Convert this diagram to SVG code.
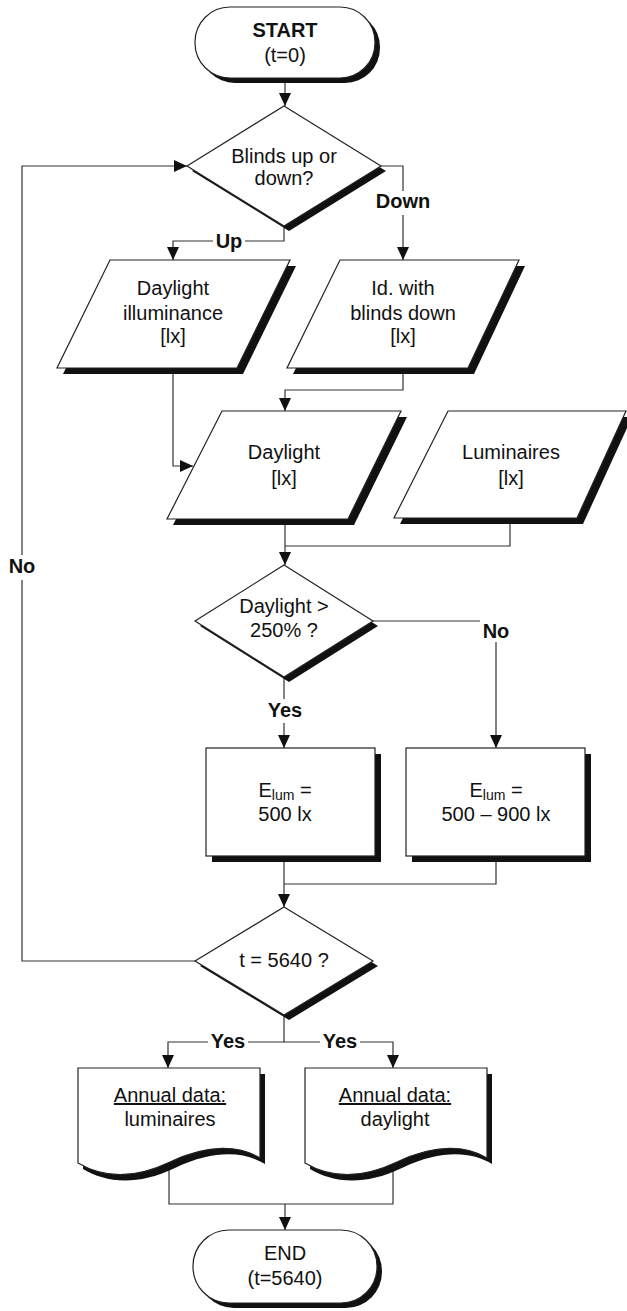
<svg xmlns="http://www.w3.org/2000/svg" width="627" height="1311" viewBox="0 0 627 1311">
<style>
.sh{fill:#111;stroke:none}
.nd{fill:#fff;stroke:#222;stroke-width:1.2}
.cn{fill:none;stroke:#333;stroke-width:1.2}
.t{font-family:"Liberation Sans",Arial,sans-serif;font-size:20px;fill:#111;text-anchor:middle}
.b{font-weight:bold}
.bg{fill:#fff;stroke:none}
</style>
<defs>
<marker id="ah" viewBox="0 0 13 12" refX="13" refY="6" markerWidth="13" markerHeight="12" markerUnits="userSpaceOnUse" orient="auto"><path d="M0,0 L13,6 L0,12 Z" fill="#111"/></marker>
<path id="doc" d="M0,0 H182 V90 C162,78 132,75 92,94 C52,113 22,108 0,95 Z"/>
</defs>
<rect width="627" height="1311" fill="#fff"/>
<g id="connectors">
<path class="cn" d="M285,78 V106" marker-end="url(#ah)"/>
<path class="cn" d="M381,166 H403 V260" marker-end="url(#ah)"/>
<path class="cn" d="M284,226 V241 H173 V260" marker-end="url(#ah)"/>
<path class="cn" d="M173,368 V466 H193" marker-end="url(#ah)"/>
<path class="cn" d="M403,368 V390 H285 V411" marker-end="url(#ah)"/>
<path class="cn" d="M285,519 V565" marker-end="url(#ah)"/>
<path class="cn" d="M510,518 V546 H285"/>
<path class="cn" d="M373,621 H496 V748" marker-end="url(#ah)"/>
<path class="cn" d="M284,677 V748" marker-end="url(#ah)"/>
<path class="cn" d="M284,856 V907" marker-end="url(#ah)"/>
<path class="cn" d="M496,856 V884 H284"/>
<path class="cn" d="M195,961 H22 V166 H187" marker-end="url(#ah)"/>
<path class="cn" d="M284,1015 V1042 H168 V1068" marker-end="url(#ah)"/>
<path class="cn" d="M284,1042 H393 V1068" marker-end="url(#ah)"/>
<path class="cn" d="M169,1168 V1204 H393 V1168"/>
<path class="cn" d="M285,1204 V1230" marker-end="url(#ah)"/>
</g>
<g id="start">
<rect class="sh" x="200" y="12" width="180" height="71" rx="35"/>
<rect class="nd" x="195" y="7" width="180" height="71" rx="35"/>
<text class="t b" x="285" y="37">START</text>
<text class="t" x="285" y="62">(t=0)</text>
</g>
<g id="blinds">
<polygon class="sh" points="289,111 386,171 289,231 192,171"/>
<polygon class="nd" points="284,106 381,166 284,226 187,166"/>
<text class="t" x="284" y="163">Blinds up or</text>
<text class="t" x="284" y="185">down?</text>
</g>
<g id="daylight-illuminance">
<polygon class="sh" points="116,266 296,266 243,374 63,374"/>
<polygon class="nd" points="110,260 290,260 237,368 57,368"/>
<text class="t" x="173" y="295">Daylight</text>
<text class="t" x="173" y="320">illuminance</text>
<text class="t" x="173" y="343">[lx]</text>
</g>
<g id="blinds-down">
<polygon class="sh" points="346,266 525,266 474,374 293,374"/>
<polygon class="nd" points="340,260 519,260 468,368 287,368"/>
<text class="t" x="403" y="295">Id. with</text>
<text class="t" x="403" y="320">blinds down</text>
<text class="t" x="403" y="343">[lx]</text>
</g>
<g id="daylight">
<polygon class="sh" points="228,417 407,417 354,525 173,525"/>
<polygon class="nd" points="222,411 401,411 348,519 167,519"/>
<text class="t" x="284" y="459">Daylight</text>
<text class="t" x="284" y="485">[lx]</text>
</g>
<g id="luminaires">
<polygon class="sh" points="454,417 632,417 583,524 400,524"/>
<polygon class="nd" points="448,411 626,411 577,518 394,518"/>
<text class="t" x="511" y="459">Luminaires</text>
<text class="t" x="511" y="485">[lx]</text>
</g>
<g id="check-daylight">
<polygon class="sh" points="289,570 378,626 289,682 200,626"/>
<polygon class="nd" points="284,565 373,621 284,677 195,621"/>
<text class="t" x="284" y="613">Daylight &gt;</text>
<text class="t" x="284" y="637">250% ?</text>
</g>
<g id="elum-500">
<rect class="sh" x="212" y="754" width="169" height="108"/>
<rect class="nd" x="206" y="748" width="169" height="108"/>
<text class="t" x="285" y="797">E<tspan font-size="14" dy="3">lum</tspan><tspan dy="-3"> =</tspan></text>
<text class="t" x="285" y="821">500 lx</text>
</g>
<g id="elum-range">
<rect class="sh" x="412" y="754" width="179" height="108"/>
<rect class="nd" x="406" y="748" width="179" height="108"/>
<text class="t" x="496" y="797">E<tspan font-size="14" dy="3">lum</tspan><tspan dy="-3"> =</tspan></text>
<text class="t" x="496" y="821">500 – 900 lx</text>
</g>
<g id="check-time">
<polygon class="sh" points="289,912 378,966 289,1020 200,966"/>
<polygon class="nd" points="284,907 373,961 284,1015 195,961"/>
<text class="t" x="284" y="967">t = 5640 ?</text>
</g>
<g id="annual-luminaires">
<use href="#doc" class="sh" transform="translate(83,1074)"/>
<use href="#doc" class="nd" transform="translate(78,1068)"/>
<text class="t" x="170" y="1102" text-decoration="underline">Annual data:</text>
<text class="t" x="170" y="1126">luminaires</text>
</g>
<g id="annual-daylight">
<use href="#doc" class="sh" transform="translate(310,1074)"/>
<use href="#doc" class="nd" transform="translate(305,1068)"/>
<text class="t" x="395" y="1102" text-decoration="underline">Annual data:</text>
<text class="t" x="395" y="1126">daylight</text>
</g>
<g id="end">
<rect class="sh" x="198" y="1235" width="184" height="73" rx="36"/>
<rect class="nd" x="193" y="1230" width="184" height="73" rx="36"/>
<text class="t" x="285" y="1260">END</text>
<text class="t" x="285" y="1285">(t=5640)</text>
</g>
<g id="labels">
<rect class="bg" x="376" y="191" width="54" height="24"/>
<text class="t b" x="403" y="208">Down</text>
<rect class="bg" x="213" y="233" width="32" height="20"/>
<text class="t b" x="229" y="248">Up</text>
<rect class="bg" x="480" y="614" width="32" height="28"/>
<text class="t b" x="496" y="638">No</text>
<rect class="bg" x="266" y="699" width="38" height="24"/>
<text class="t b" x="285" y="717">Yes</text>
<rect class="bg" x="8" y="555" width="28" height="25"/>
<text class="t b" x="22" y="573">No</text>
<rect class="bg" x="208" y="1033" width="40" height="20"/>
<text class="t b" x="228" y="1048">Yes</text>
<rect class="bg" x="320" y="1033" width="40" height="20"/>
<text class="t b" x="340" y="1048">Yes</text>
</g>
</svg>
